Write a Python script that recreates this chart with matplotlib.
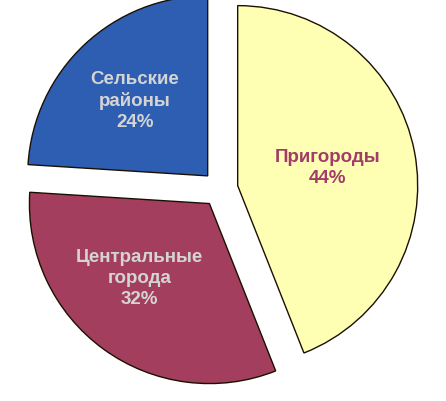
import numpy as np
import matplotlib.pyplot as plt

# share of population by settlement type
names = ['Пригороды', 'Центральные\nгорода', 'Сельские\nрайоны']
shares = [44, 32, 24]
colors = ['#FFFFB4', '#A43E5E', '#2D5EB2']
text_colors = ['#A23C68', '#D4D4D4', '#D4D4D4']

fig = plt.figure(figsize=(4.46, 4.01), dpi=100)
ax = fig.add_axes([0, 0, 1, 1])

wedges, texts = ax.pie(shares, colors=colors, startangle=90, counterclock=False,
                       explode=[0.1, 0.1, 0.1],
                       wedgeprops={'edgecolor': '#1a1000', 'linewidth': 1.0})

# label distance from the wedge centre and angle shift (deg)
dists = [0.51, 0.57, 0.58]
shifts = [0, -7, 1]
for w, name, share, col, d, s in zip(wedges, names, shares, text_colors, dists, shifts):
    ang = np.deg2rad((w.theta1 + w.theta2) / 2 + s)
    cx, cy = w.center
    ax.text(cx + d * np.cos(ang), cy + d * np.sin(ang), '%s\n%d%%' % (name, share),
            ha='center', va='center', color=col, fontsize=13.5, fontweight='bold',
            family='Liberation Sans', linespacing=1.3)

ax.set_xlim(-220 / 180, 226 / 180)
ax.set_ylim(-212 / 180, 189 / 180)
ax.set_aspect('auto')
ax.axis('off')

fig.savefig('out.png', dpi=100)
